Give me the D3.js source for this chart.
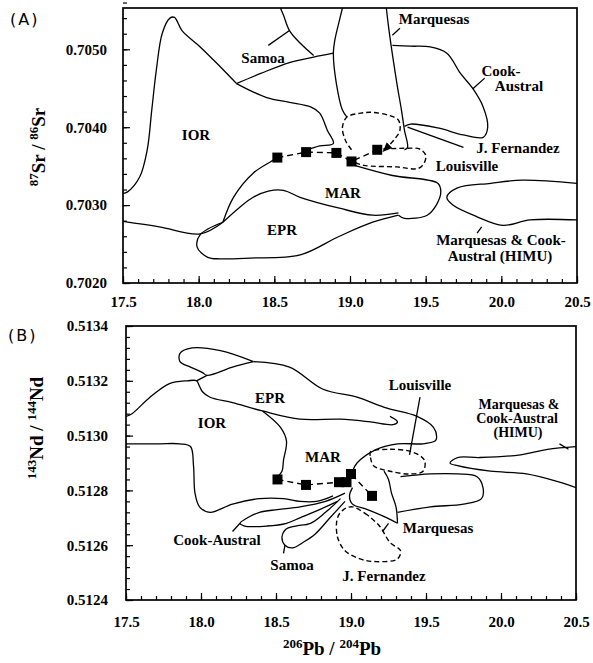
<!DOCTYPE html>
<html><head><meta charset="utf-8">
<script src="https://cdn.jsdelivr.net/npm/d3@7"></script>
<style>body{margin:0;background:#fff}svg{display:block}
.tk text{font-family:'Liberation Serif','Times New Roman',serif !important;font-weight:bold !important;font-size:15px !important}
</style>
</head><body><svg id="c" width="593" height="663"></svg>
<script>
// ---------- tick labels ----------
const pbTicks = [17.5, 18.0, 18.5, 19.0, 19.5, 20.0, 20.5];
const srTicks = [0.7020, 0.7030, 0.7040, 0.7050];
const ndTicks = [0.5124, 0.5126, 0.5128, 0.5130, 0.5132, 0.5134];

// ---------- samples (squares) ----------
const samplePbA = [18.52, 18.71, 18.91, 19.01, 19.18];
const sampleSr  = [0.70361, 0.70368, 0.70367, 0.70356, 0.70371];
const samplePbB = [18.51, 18.70, 18.92, 18.97, 19.00, 19.14];
const sampleNd  = [0.51284, 0.51282, 0.51283, 0.51283, 0.51286, 0.51278];

// ---------- panel A field outlines [206Pb/204Pb, 87Sr/86Sr] ----------
const A_iorLeft = [[17.5,0.70315],[17.53,0.70317],[17.61,0.70336],[17.66,0.70371],[17.69,0.70422],[17.72,0.70473],[17.76,0.70521],[17.81,0.70540],[17.84,0.70541],[17.89,0.70524],[18.01,0.70503],[18.12,0.70482],[18.25,0.70456]];
const A_iorRight = [[18.25,0.70456],[18.45,0.70438],[18.60,0.70432],[18.74,0.70426],[18.80,0.70418],[18.85,0.70396],[18.89,0.70379],[18.80,0.70376],[18.72,0.70371]];
const A_samoaLow = [[18.25,0.70456],[18.41,0.70469],[18.60,0.70483],[18.76,0.70490],[18.89,0.70495]];
const A_samoaIn = [[18.54,0.70553],[18.56,0.70544],[18.60,0.70524],[18.67,0.70508],[18.76,0.70492]];
const A_samoaPtr = [[18.46,0.70505],[18.60,0.70524]];
const A_samoaMarq = [[18.95,0.70553],[18.93,0.70537],[18.90,0.70512],[18.89,0.70495],[18.91,0.70456],[18.95,0.70422],[18.98,0.70413]];
const A_marq = [[19.24,0.70553],[19.26,0.70521],[19.31,0.70456],[19.34,0.70422],[19.36,0.70396],[19.38,0.70374],[19.36,0.70371]];
const A_marqPtr = [[19.28,0.70518],[19.33,0.70527]];
const A_cook = [[19.28,0.70505],[19.40,0.70504],[19.53,0.70503],[19.64,0.70495],[19.73,0.70469],[19.81,0.70450],[19.88,0.70426],[19.91,0.70400],[19.88,0.70387],[19.75,0.70390],[19.58,0.70399],[19.40,0.70404],[19.36,0.70401]];
const A_cookPtr = [[19.81,0.70449],[19.89,0.70463]];
const A_jfPtr = [[19.38,0.70400],[19.75,0.70374]];
const A_jf = [[19.01,0.70371],[18.97,0.70383],[18.95,0.70400],[18.98,0.70413],[19.07,0.70418],[19.15,0.70419],[19.26,0.70415],[19.32,0.70409],[19.33,0.70396],[19.30,0.70386],[19.26,0.70377],[19.22,0.70369]];
const A_louis = [[19.22,0.70372],[19.38,0.70373],[19.46,0.70372],[19.50,0.70364],[19.49,0.70354],[19.45,0.70347],[19.31,0.70349],[19.09,0.70351],[19.03,0.70355]];
const A_marTop = [[19.03,0.70351],[19.28,0.70338],[19.58,0.70328],[19.60,0.70317],[19.57,0.70300],[19.51,0.70287],[19.36,0.70283],[19.32,0.70287]];
const A_marLeft = [[18.16,0.70278],[18.23,0.70310],[18.36,0.70341],[18.47,0.70355],[18.52,0.70361]];
const A_eprBot = [[18.16,0.70278],[18.01,0.70262],[17.99,0.70246],[18.06,0.70233],[18.14,0.70231],[18.34,0.70232],[18.67,0.70236],[18.93,0.70260],[19.15,0.70278],[19.32,0.70287]];
const A_eprTop = [[18.16,0.70278],[18.27,0.70297],[18.36,0.70310],[18.46,0.70318],[18.56,0.70319],[18.67,0.70310],[18.93,0.70296],[19.15,0.70287],[19.32,0.70290]];
const A_lowLeft = [[17.5,0.70279],[17.74,0.70272],[18.01,0.70263],[18.16,0.70278]];
const A_himu = [[20.5,0.70328],[20.14,0.70332],[19.93,0.70328],[19.71,0.70322],[19.64,0.70310],[19.68,0.70300],[19.84,0.70285],[20.01,0.70274],[20.19,0.70281],[20.5,0.70281]];
const A_himuPtr = [[19.87,0.70272],[19.84,0.70264]];

// ---------- panel B field outlines [206Pb/204Pb, 143Nd/144Nd] ----------
const B_upper = [[18.35,0.51327],[18.13,0.51331],[17.94,0.51332],[17.86,0.51330],[17.86,0.51327],[17.93,0.51325],[18.01,0.51323],[18.04,0.51322],[18.21,0.51325],[18.35,0.51327]];
const B_eprTop = [[18.35,0.51327],[18.59,0.51325],[18.81,0.51317],[19.04,0.51314],[19.24,0.51310],[19.44,0.51307],[19.55,0.51303],[19.57,0.51299],[19.56,0.51298],[19.48,0.51297],[19.31,0.51297],[19.17,0.51295],[19.04,0.51290],[19.01,0.51287]];
const B_iorTop = [[17.5,0.51307],[17.54,0.51308],[17.66,0.51314],[17.79,0.51319],[17.91,0.51320],[17.97,0.51320],[17.99,0.51318],[18.01,0.51316],[18.06,0.51314],[18.21,0.51312],[18.41,0.51309],[18.66,0.51306],[18.93,0.51306],[19.13,0.51305],[19.28,0.51304],[19.31,0.51305],[19.26,0.51307]];
const B_join = [[17.97,0.51320],[18.04,0.51322]];
const B_iorRight = [[18.41,0.51309],[18.53,0.51303],[18.57,0.51298],[18.55,0.51291],[18.54,0.51287],[18.51,0.51285]];
const B_iorLow = [[17.5,0.51297],[17.71,0.51297],[17.86,0.51297],[17.93,0.51296],[17.95,0.51289],[17.96,0.51279],[17.99,0.51274],[18.06,0.51272],[18.21,0.51275],[18.39,0.51277],[18.55,0.51277],[18.66,0.51276],[18.77,0.51276],[18.88,0.51278]];
const B_cook = [[18.96,0.51279],[18.83,0.51276],[18.66,0.51274],[18.51,0.51273],[18.39,0.51272],[18.31,0.51270],[18.26,0.51268],[18.29,0.51267],[18.44,0.51267],[18.57,0.51268],[18.66,0.51270],[18.79,0.51273],[18.91,0.51276]];
const B_cookPtr = [[18.21,0.51265],[18.26,0.51268]];
const B_samoa = [[18.93,0.51277],[18.83,0.51272],[18.73,0.51268],[18.63,0.51267],[18.57,0.51266],[18.54,0.51263],[18.56,0.51260],[18.61,0.51259],[18.68,0.51261],[18.76,0.51264],[18.86,0.51270],[18.96,0.51276]];
const B_samoaPtr = [[18.55,0.51257],[18.56,0.51260]];
const B_marqL = [[19.01,0.51281],[18.99,0.51278],[19.01,0.51275],[19.11,0.51273],[19.24,0.51270],[19.31,0.51268]];
const B_marqR = [[19.22,0.51287],[19.25,0.51284],[19.27,0.51279],[19.30,0.51274],[19.31,0.51268]];
const B_marqLobe = [[19.31,0.51272],[19.53,0.51274],[19.75,0.51275],[19.87,0.51277],[19.88,0.51281],[19.84,0.51285],[19.71,0.51286],[19.53,0.51286],[19.33,0.51285]];
const B_marqPtr = [[19.21,0.51265],[19.25,0.51268]];
const B_himu = [[20.5,0.51296],[20.31,0.51295],[20.13,0.51293],[19.86,0.51292],[19.71,0.51292],[19.66,0.51290],[19.71,0.51289],[19.93,0.51287],[20.17,0.51286],[20.39,0.51283],[20.5,0.51281]];
const B_himuPtr = [[20.39,0.51297],[20.45,0.51295]];
const B_louis = [[19.13,0.51292],[19.15,0.51289],[19.26,0.51287],[19.39,0.51286],[19.48,0.51287],[19.49,0.51291],[19.41,0.51294],[19.26,0.51295],[19.13,0.51294],[19.13,0.51292]];
const B_louisPtr = [[19.39,0.51293],[19.46,0.51314]];
const B_jf = [[19.11,0.51271],[19.01,0.51274],[18.95,0.51273],[18.91,0.51270],[18.91,0.51263],[18.96,0.51258],[19.06,0.51255],[19.17,0.51254],[19.31,0.51255],[19.33,0.51258],[19.26,0.51261],[19.19,0.51267],[19.11,0.51271]];

// ---------- drawing ----------
const svg = d3.select('#c');
const serif = "'Liberation Serif','Times New Roman',serif";
const defs = svg.append('defs');
defs.append('marker').attr('id','arr').attr('viewBox','0 0 10 10').attr('refX',9).attr('refY',5)
  .attr('markerWidth',7).attr('markerHeight',7).attr('orient','auto')
  .append('path').attr('d','M0,1 L10,5 L0,9 z').attr('fill','#000');

function panel(cfg) {
  const g = svg.append('g');
  const x = d3.scaleLinear().domain([17.5, 20.5]).range([cfg.l, cfg.r]);
  const y = d3.scaleLinear().domain(cfg.yd).range([cfg.b, cfg.t]);
  const line = d3.line().x(d => x(d[0])).y(d => y(d[1])).curve(d3.curveCatmullRom.alpha(0.5));

  const minorX = d3.range(0, 31).map(i => 17.5 + i * 0.1);
  const ny = Math.round((cfg.yd[1] - cfg.yd[0]) / cfg.ystep + 1e-6);
  const minorY = d3.range(0, ny + 1).map(i => cfg.yd[0] + i * cfg.ystep);
  const ax = g.append('g').attr('transform', `translate(0,${cfg.b})`)
    .call(d3.axisBottom(x).tickValues(minorX).tickSize(-4).tickFormat(''));
  const ay = g.append('g').attr('transform', `translate(${cfg.l},0)`)
    .call(d3.axisLeft(y).tickValues(minorY).tickSize(-4).tickFormat(''));
  const bx = g.append('g').attr('class', 'tk').attr('transform', `translate(0,${cfg.b})`)
    .call(d3.axisBottom(x).tickValues(pbTicks).tickSize(-7).tickPadding(cfg.xpad).tickFormat(d3.format('.1f')));
  const by = g.append('g').attr('class', 'tk').attr('transform', `translate(${cfg.l},0)`)
    .call(d3.axisLeft(y).tickValues(cfg.yt).tickSize(-7).tickPadding(cfg.ypad).tickFormat(d3.format('.4f')));
  [ax, ay, bx, by].forEach(s => {
    s.attr('font-family', serif).attr('font-size', 15).attr('font-weight', 'bold');
    s.select('.domain').remove();
    s.selectAll('line').attr('stroke', '#000').attr('stroke-width', 1.2);
    s.selectAll('text').attr('font-family', serif).attr('font-weight', 'bold').attr('font-size', 15).attr('fill', '#000');
  });
  g.append('rect').attr('x', cfg.l).attr('y', cfg.t).attr('width', cfg.r - cfg.l).attr('height', cfg.b - cfg.t)
    .attr('fill', 'none').attr('stroke', '#000').attr('stroke-width', 1.7);

  const clip = 'clip' + cfg.id;
  defs.append('clipPath').attr('id', clip).append('rect').attr('x', cfg.l).attr('y', cfg.t).attr('width', cfg.r - cfg.l).attr('height', cfg.b - cfg.t);
  const pg = g.append('g').attr('clip-path', `url(#${clip})`);
  cfg.solid.forEach(p => pg.append('path').attr('d', line(p)).attr('fill', 'none').attr('stroke', '#000').attr('stroke-width', 1.3));
  cfg.dashed.forEach(p => pg.append('path').attr('d', line(p.pts)).attr('fill', 'none').attr('stroke', '#000')
    .attr('stroke-width', 1.4).attr('stroke-dasharray', '5,3').attr('marker-end', p.arrow ? 'url(#arr)' : null));

  const pts = cfg.sx.map((v, i) => [v, cfg.sy[i]]);
  pg.append('path').attr('d', d3.line().x(d => x(d[0])).y(d => y(d[1]))(pts))
    .attr('fill', 'none').attr('stroke', '#000').attr('stroke-width', 1.4).attr('stroke-dasharray', '6,4');
  pg.selectAll('rect.s').data(pts).join('rect').attr('class', 's')
    .attr('x', d => x(d[0]) - 5).attr('y', d => y(d[1]) - 5).attr('width', 10).attr('height', 10).attr('fill', '#000');

  cfg.labels.forEach(l => {
    g.append('text').style('font-family', serif).style('font-weight', 'bold').style('font-size', (l[3] || 15) + 'px')
      .attr('text-anchor', 'middle').attr('x', l[1]).attr('y', l[2]).attr('fill', '#000').text(l[0]);
  });
  return { x, y };
}

panel({
  id: 'A', l: 123, r: 577, t: 8, b: 283, yd: [0.7020, 0.70553], ystep: 0.0002, yt: srTicks, xpad: 13, ypad: 16,
  sx: samplePbA, sy: sampleSr,
  solid: [A_iorLeft, A_iorRight, A_samoaLow, A_samoaIn, A_samoaPtr, A_samoaMarq, A_marq, A_marqPtr, A_cook, A_cookPtr, A_jfPtr,
          A_marTop, A_marLeft, A_eprBot, A_eprTop, A_lowLeft, A_himu, A_himuPtr],
  dashed: [{ pts: A_jf, arrow: true }, { pts: A_louis }],
  labels: [['Samoa', 263, 63], ['Marquesas', 434, 24], ['Cook-', 501, 76], ['Austral', 519, 91], ['IOR', 196, 140],
           ['J. Fernandez', 518, 153], ['Louisville', 467, 171], ['MAR', 343, 198], ['EPR', 282, 235],
           ['Marquesas & Cook-', 501, 245], ['Austral (HIMU)', 500, 261]]
});

panel({
  id: 'B', l: 126, r: 576, t: 326, b: 600, yd: [0.5124, 0.5134], ystep: 0.00004, yt: ndTicks, xpad: 16, ypad: 18,
  sx: samplePbB, sy: sampleNd,
  solid: [B_upper, B_eprTop, B_iorTop, B_join, B_iorRight, B_iorLow, B_cook, B_cookPtr, B_samoa, B_samoaPtr, B_marqL, B_marqR,
          B_marqLobe, B_marqPtr, B_himu, B_himuPtr, B_louisPtr],
  dashed: [{ pts: B_louis }, { pts: B_jf }],
  labels: [['EPR', 270, 403], ['IOR', 212, 428], ['MAR', 323, 462], ['Louisville', 420, 390],
           ['Marquesas &', 519, 409, 14], ['Cook-Austral', 517, 423, 14], ['(HIMU)', 518, 437, 14],
           ['Cook-Austral', 217, 545], ['Samoa', 292, 570], ['Marquesas', 438, 533], ['J. Fernandez', 384, 581]]
});

svg.append('text').attr('x', 10).attr('y', 25).style('font-family', "'DejaVu Sans',sans-serif").style('font-size', '16px')
  .attr('letter-spacing', 2).text('(A)');
svg.append('text').attr('x', 8).attr('y', 341).style('font-family', "'DejaVu Sans',sans-serif").style('font-size', '16px')
  .attr('letter-spacing', 2).text('(B)');

function ratioTitle(sel, a, b, c, d) {
  sel.style('font-family', serif).style('font-weight', 'bold').style('font-size', '19px').attr('text-anchor', 'middle').attr('fill', '#000');
  sel.append('tspan').style('font-size', '13px').attr('dy', -7).text(a);
  sel.append('tspan').attr('dy', 7).text(b + ' / ');
  sel.append('tspan').style('font-size', '13px').attr('dy', -7).text(c);
  sel.append('tspan').attr('dy', 7).text(d);
}
ratioTitle(svg.append('text').attr('transform', 'translate(45,147) rotate(-90)'), '87', 'Sr', '86', 'Sr');
ratioTitle(svg.append('text').attr('transform', 'translate(43,428) rotate(-90)'), '143', 'Nd', '144', 'Nd');
ratioTitle(svg.append('text').attr('transform', 'translate(332,655)'), '206', 'Pb', '204', 'Pb');
</script></body></html>
